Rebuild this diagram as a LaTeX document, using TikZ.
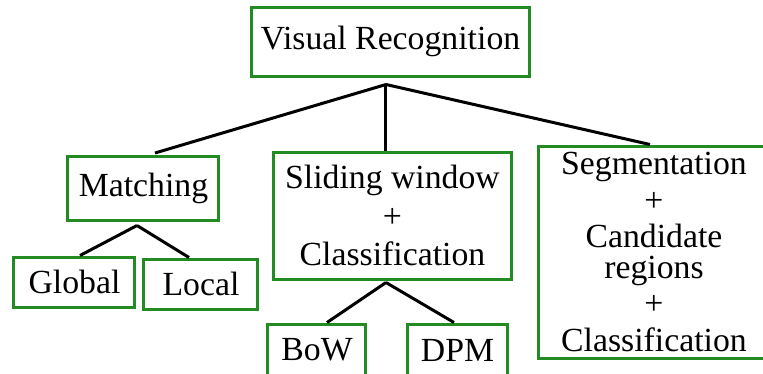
\documentclass[tikz,border=0pt]{standalone}
\usepackage{fontspec}
\setmainfont{Liberation Serif}
\usepackage{tikz}
\usetikzlibrary{positioning}
\definecolor{boxgreen}{RGB}{34,139,34}
\tikzstyle{box} = [rectangle, draw=boxgreen, line width=1.2pt, fill=white, inner sep=0pt, align=center, font=\fontsize{13.5}{14.5}\selectfont]
\tikzstyle{branch} = [draw=black, line width=1.2pt]

\begin{document}
\begin{tikzpicture}[node distance=0cm, x=0.4pt, y=-0.4pt]
\useasboundingbox (0,0) rectangle (763,374);
\clip (0,0) rectangle (763,374);
\node (root) [box, minimum width=110.8pt, minimum height=27.6pt] at (390.5,41.5) {Visual Recognition};
\node (match) [box, below of=root, xshift=-98.8pt, yshift=-58.6pt, minimum width=60.4pt, minimum height=25.6pt] {Matching};
\node (slide) [box, below of=root, xshift=0.8pt, yshift=-69.6pt, minimum width=94.8pt, minimum height=50.8pt] {Sliding window\\[1pt]+\\[1pt]Classification};
\node (seg) [box, below of=root, xshift=105.4pt, yshift=-84.2pt, minimum width=92.8pt, minimum height=84.8pt] {Segmentation\\+\\Candidate\\[-2pt]regions\\+\\Classification};
\node (global) [box, below of=match, xshift=-27.6pt, yshift=-37.6pt, minimum width=48.4pt, minimum height=20pt] {Global};
\node (local) [box, below of=match, xshift=23pt, yshift=-38.4pt, minimum width=45.6pt, minimum height=20pt] {Local};
\node (bow) [box, below of=slide, xshift=-30.2pt, yshift=-53.8pt, minimum width=39.2pt, minimum height=20.8pt] {BoW};
\node (dpm) [box, below of=slide, xshift=26pt, yshift=-53.8pt, minimum width=39.6pt, minimum height=20.8pt] {DPM};
% forks
\coordinate (rfork) at ([xshift=-1.8pt, yshift=-2.8pt]root.south);
\coordinate (mfork) at ([xshift=-2.6pt, yshift=-1.6pt]match.south);
\coordinate (sfork) at ([xshift=-2.6pt, yshift=-0.8pt]slide.south);
\draw[branch] (rfork) -- ([xshift=4.6pt, yshift=0.6pt]match.north);
\draw[branch] (rfork) -- ([xshift=-2.6pt]slide.north);
\draw[branch] (rfork) -- ([xshift=-1.6pt]seg.north);
\draw[branch] (mfork) -- ([xshift=2.2pt]global.north);
\draw[branch] (mfork) -- ([xshift=-4.8pt]local.north);
\draw[branch] (sfork) -- ([xshift=4pt]bow.north);
\draw[branch] (sfork) -- ([xshift=-1.4pt]dpm.north);
\end{tikzpicture}
\end{document}
